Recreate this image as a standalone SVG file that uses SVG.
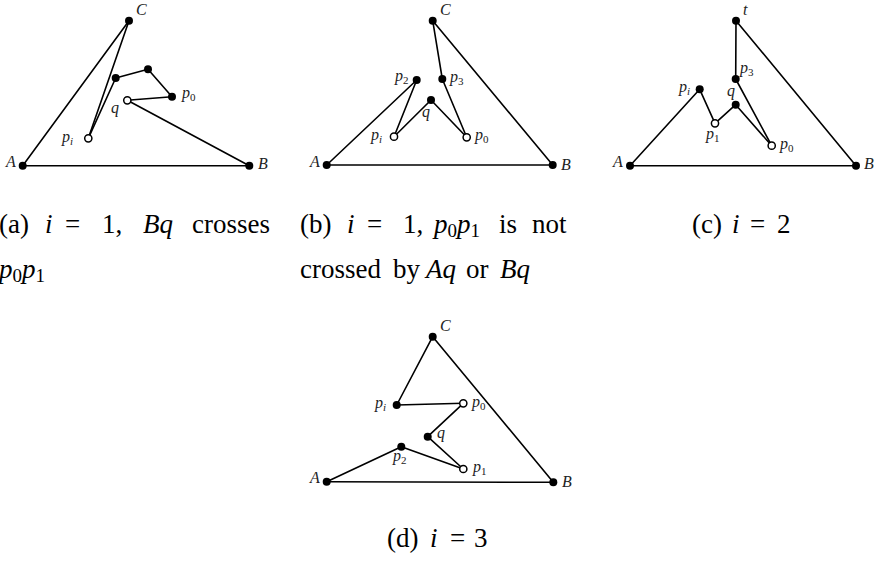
<svg xmlns="http://www.w3.org/2000/svg" width="877" height="561" viewBox="0 0 877 561">
<style>
.e{stroke:#000;stroke-width:1.6;fill:none;stroke-linecap:round}
.f{fill:#000}
.o{fill:#fff;stroke:#000;stroke-width:1.5}
.l{font-family:"Liberation Serif",serif;font-style:italic;font-size:16px;fill:#222}
.s{font-size:11px;font-style:normal}
.si{font-size:11px;font-style:italic}
.c{font-family:"Liberation Serif",serif;font-size:27px;fill:#000}
.m{font-style:italic}
.cs{font-size:19px;font-style:normal}
</style>
<rect width="877" height="561" fill="#fff"/>

<!-- Panel (a) -->
<g id="edges-a">
<line class="e" x1="22.7" y1="165.7" x2="129" y2="20.7"/>
<line class="e" x1="22.7" y1="165.7" x2="249.3" y2="165.7"/>
<line class="e" x1="129" y1="20.7" x2="88.3" y2="138.3"/>
<line class="e" x1="88.3" y1="138.3" x2="115.7" y2="78"/>
<line class="e" x1="115.7" y1="78" x2="148" y2="69.3"/>
<line class="e" x1="148" y1="69.3" x2="172" y2="96.7"/>
<line class="e" x1="172" y1="96.7" x2="127.3" y2="100.3"/>
<line class="e" x1="127.3" y1="100.3" x2="249.3" y2="165.7"/>
</g>
<g id="a-C"><circle class="f" cx="129" cy="20.7" r="4"/><text class="l" x="136" y="15">C</text></g>
<g id="a-A"><circle class="f" cx="22.7" cy="165.7" r="4"/><text class="l" x="6" y="167">A</text></g>
<g id="a-B"><circle class="f" cx="249.3" cy="165.7" r="4"/><text class="l" x="258" y="169">B</text></g>
<g id="a-v1"><circle class="f" cx="115.7" cy="78" r="4"/></g>
<g id="a-v2"><circle class="f" cx="148" cy="69.3" r="4"/></g>
<g id="a-p0"><circle class="f" cx="172" cy="96.7" r="4"/><text class="l" x="182" y="98">p<tspan class="s" dy="3">0</tspan></text></g>
<g id="a-q"><circle class="o" cx="127.3" cy="100.3" r="3.6"/><text class="l" x="111" y="113">q</text></g>
<g id="a-pi"><circle class="o" cx="88.3" cy="138.3" r="3.6"/><text class="l" x="62" y="142">p<tspan class="si" dy="3">i</tspan></text></g>

<!-- Panel (b) -->
<g id="edges-b">
<line class="e" x1="326.7" y1="165" x2="552.7" y2="165"/>
<line class="e" x1="326.7" y1="165" x2="416.7" y2="80"/>
<line class="e" x1="416.7" y1="80" x2="394" y2="136.7"/>
<line class="e" x1="394" y1="136.7" x2="431" y2="100"/>
<line class="e" x1="431" y1="100" x2="466.7" y2="137.3"/>
<line class="e" x1="466.7" y1="137.3" x2="442.3" y2="79"/>
<line class="e" x1="442.3" y1="79" x2="432.7" y2="20.7"/>
<line class="e" x1="432.7" y1="20.7" x2="552.7" y2="165"/>
</g>
<g id="b-C"><circle class="f" cx="432.7" cy="20.7" r="4"/><text class="l" x="440" y="15">C</text></g>
<g id="b-A"><circle class="f" cx="326.7" cy="165" r="4"/><text class="l" x="310" y="167">A</text></g>
<g id="b-B"><circle class="f" cx="552.7" cy="165" r="4"/><text class="l" x="561" y="170">B</text></g>
<g id="b-p2"><circle class="f" cx="416.7" cy="80" r="4"/><text class="l" x="395" y="81">p<tspan class="s" dy="3">2</tspan></text></g>
<g id="b-p3"><circle class="f" cx="442.3" cy="79" r="4"/><text class="l" x="450" y="82">p<tspan class="s" dy="3">3</tspan></text></g>
<g id="b-q"><circle class="f" cx="431" cy="100" r="4"/><text class="l" x="422" y="117">q</text></g>
<g id="b-pi"><circle class="o" cx="394" cy="136.7" r="3.6"/><text class="l" x="371" y="140">p<tspan class="si" dy="3">i</tspan></text></g>
<g id="b-p0"><circle class="o" cx="466.7" cy="137.3" r="3.6"/><text class="l" x="475" y="140">p<tspan class="s" dy="3">0</tspan></text></g>

<!-- Panel (c) -->
<g id="edges-c">
<line class="e" x1="630" y1="165.7" x2="856" y2="165.7"/>
<line class="e" x1="630" y1="165.7" x2="699.7" y2="89.3"/>
<line class="e" x1="699.7" y1="89.3" x2="715" y2="123.3"/>
<line class="e" x1="715" y1="123.3" x2="735.7" y2="104.7"/>
<line class="e" x1="735.7" y1="104.7" x2="771.7" y2="145.7"/>
<line class="e" x1="771.7" y1="145.7" x2="735.7" y2="79"/>
<line class="e" x1="735.7" y1="79" x2="736" y2="20.7"/>
<line class="e" x1="736" y1="20.7" x2="856" y2="165.7"/>
</g>
<g id="c-t"><circle class="f" cx="736" cy="20.7" r="4"/><text class="l" x="743" y="15">t</text></g>
<g id="c-A"><circle class="f" cx="630" cy="165.7" r="4"/><text class="l" x="613" y="167">A</text></g>
<g id="c-B"><circle class="f" cx="856" cy="165.7" r="4"/><text class="l" x="864" y="169">B</text></g>
<g id="c-p3"><circle class="f" cx="735.7" cy="79" r="4"/><text class="l" x="740" y="73">p<tspan class="s" dy="3">3</tspan></text></g>
<g id="c-pi"><circle class="f" cx="699.7" cy="89.3" r="4"/><text class="l" x="679" y="92">p<tspan class="si" dy="3">i</tspan></text></g>
<g id="c-q"><circle class="f" cx="735.7" cy="104.7" r="4"/><text class="l" x="727" y="96">q</text></g>
<g id="c-p1"><circle class="o" cx="715" cy="123.3" r="3.6"/><text class="l" x="706" y="139">p<tspan class="s" dy="3">1</tspan></text></g>
<g id="c-p0"><circle class="o" cx="771.7" cy="145.7" r="3.6"/><text class="l" x="780" y="149">p<tspan class="s" dy="3">0</tspan></text></g>

<!-- Panel (d) -->
<g id="edges-d">
<line class="e" x1="326.7" y1="481.7" x2="553.3" y2="482.3"/>
<line class="e" x1="326.7" y1="481.7" x2="401.3" y2="446.7"/>
<line class="e" x1="401.3" y1="446.7" x2="463.3" y2="469"/>
<line class="e" x1="463.3" y1="469" x2="427.7" y2="436.7"/>
<line class="e" x1="427.7" y1="436.7" x2="463.3" y2="403.3"/>
<line class="e" x1="463.3" y1="403.3" x2="396.7" y2="405"/>
<line class="e" x1="396.7" y1="405" x2="432.7" y2="336.7"/>
<line class="e" x1="432.7" y1="336.7" x2="553.3" y2="482.3"/>
</g>
<g id="d-C"><circle class="f" cx="432.7" cy="336.7" r="4"/><text class="l" x="440" y="331">C</text></g>
<g id="d-A"><circle class="f" cx="326.7" cy="481.7" r="4"/><text class="l" x="310" y="483">A</text></g>
<g id="d-B"><circle class="f" cx="553.3" cy="482.3" r="4"/><text class="l" x="562" y="487">B</text></g>
<g id="d-pi"><circle class="f" cx="396.7" cy="405" r="4"/><text class="l" x="375" y="408">p<tspan class="si" dy="3">i</tspan></text></g>
<g id="d-p0"><circle class="o" cx="463.3" cy="403.3" r="3.6"/><text class="l" x="472" y="407">p<tspan class="s" dy="3">0</tspan></text></g>
<g id="d-q"><circle class="f" cx="427.7" cy="436.7" r="4"/><text class="l" x="437" y="438">q</text></g>
<g id="d-p2"><circle class="f" cx="401.3" cy="446.7" r="4"/><text class="l" x="393" y="461">p<tspan class="s" dy="3">2</tspan></text></g>
<g id="d-p1"><circle class="o" cx="463.3" cy="469" r="3.6"/><text class="l" x="473" y="472">p<tspan class="s" dy="3">1</tspan></text></g>

<!-- Captions -->
<g id="captions">
<text class="c" x="-1" y="233">(a)</text>
<text class="c m" x="45" y="233">i</text>
<text class="c" x="65" y="233">=</text>
<text class="c" x="102" y="233">1,</text>
<text class="c m" x="143" y="233">Bq</text>
<text class="c" x="192" y="233">crosses</text>
<text class="c m" x="-1" y="278">p<tspan class="cs" dy="4">0</tspan><tspan dy="-4">p</tspan><tspan class="cs" dy="4">1</tspan></text>

<text class="c" x="300" y="233">(b)</text>
<text class="c m" x="347" y="233">i</text>
<text class="c" x="367" y="233">=</text>
<text class="c" x="403" y="233">1,</text>
<text class="c m" x="434" y="233">p<tspan class="cs" dy="4">0</tspan><tspan dy="-4">p</tspan><tspan class="cs" dy="4">1</tspan></text>
<text class="c" x="499" y="233">is</text>
<text class="c" x="532" y="233">not</text>
<text class="c" x="300" y="278">crossed</text>
<text class="c" x="393" y="278">by</text>
<text class="c m" x="426" y="278">Aq</text>
<text class="c" x="466" y="278">or</text>
<text class="c m" x="500" y="278">Bq</text>

<text class="c" x="692" y="233">(c)</text>
<text class="c m" x="732" y="233">i</text>
<text class="c" x="750" y="233">=</text>
<text class="c" x="777" y="233">2</text>

<text class="c" x="387" y="547">(d)</text>
<text class="c m" x="430" y="547">i</text>
<text class="c" x="450" y="547">=</text>
<text class="c" x="474" y="547">3</text>
</g>
</svg>
